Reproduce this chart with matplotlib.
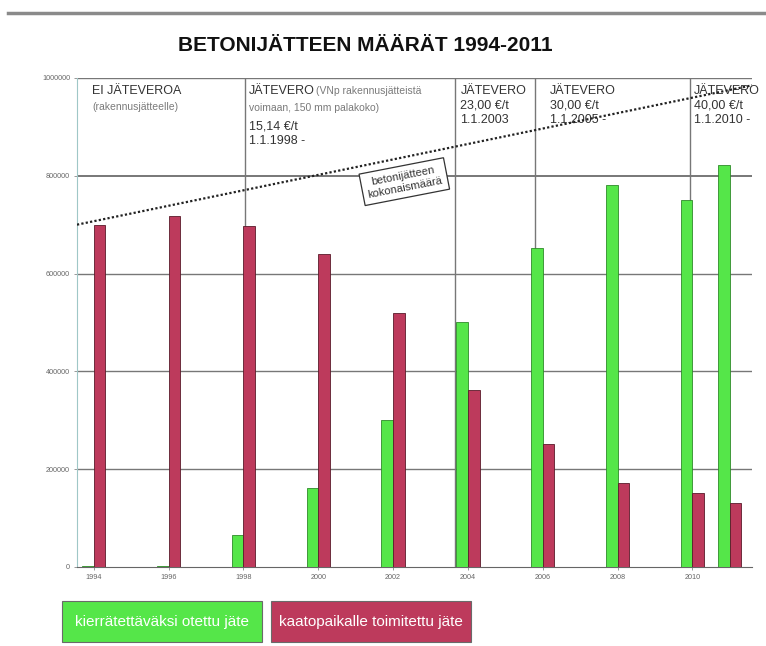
import numpy as np
import matplotlib
matplotlib.use("Agg")
import matplotlib.pyplot as plt
from matplotlib.lines import Line2D
from matplotlib.patches import Rectangle

# data
years = [1994, 1996, 1998, 2000, 2002, 2004, 2006, 2008, 2010, 2011]
recycled = [2000, 3000, 65000, 162000, 300000, 500000, 652000, 781000, 750000, 822000]
landfill = [700000, 718000, 697000, 640000, 519000, 362000, 252000, 172000, 151000, 131000]
total_x = [1993.55, 2011.6]
total_y = [700000, 985000]
tax_lines = [1998.05, 2003.65, 2005.8, 2009.95]
ytick_vals = [0, 200000, 400000, 600000, 800000, 1000000]
xtick_vals = [1994, 1996, 1998, 2000, 2002, 2004, 2006, 2008, 2010]

title = "BETONIJÄTTEEN MÄÄRÄT 1994-2011"
legend_labels = ["kierrätettäväksi otettu jäte", "kaatopaikalle toimitettu jäte"]

GREEN = "#55e649"
RED = "#bd3a5c"
plt.rcParams['font.family'] = ['Liberation Sans', 'DejaVu Sans']

fig = plt.figure(figsize=(7.66, 6.46), dpi=100)
ax = fig.add_axes([0.1005, 0.1223, 0.8815, 0.7570])

w = 0.31
x = np.array(years, dtype=float)
ax.bar(x - w / 2, recycled, width=w, color=GREEN, edgecolor="#2f8a2a", linewidth=0.6, zorder=3)
ax.bar(x + w / 2, landfill, width=w, color=RED, edgecolor="#5a1a2a", linewidth=0.6, zorder=3)

# grid + tax period separators
for v in ytick_vals[1:]:
    ax.axhline(v, color="#777777", lw=1.0 if v != 800000 else 1.4, zorder=1)
for t in tax_lines:
    ax.axvline(t, color="#777777", lw=1.0, zorder=1)

# total amount (dotted line)
ax.plot(total_x, total_y, color="#222222", lw=1.6, ls=(0, (1, 1)), zorder=4)
ax.text(2002.3, 788000, "betonijätteen\nkokonaismäärä", rotation=11, ha="center", va="center",
        fontsize=8, color="#333333", linespacing=1.25, zorder=5,
        bbox=dict(boxstyle="square,pad=0.45", fc="white", ec="#333333", lw=0.9))

# period texts
dark = "#333333"
light = "#7a7a7a"
ax.text(1993.95, 986000, "EI JÄTEVEROA", fontsize=9, color=dark, va="top")
ax.text(1993.95, 950000, "(rakennusjätteelle)", fontsize=7.5, color=light, va="top")
ax.text(1998.15, 986000, "JÄTEVERO", fontsize=9, color=dark, va="top")
ax.text(1999.95, 984000, "(VNp rakennusjätteistä", fontsize=7.5, color=light, va="top")
ax.text(1998.15, 948000, "voimaan, 150 mm palakoko)", fontsize=7.5, color=light, va="top")
ax.text(1998.15, 914000, "15,14 €/t\n1.1.1998 -", fontsize=9, color=dark, va="top", linespacing=1.3)
ax.text(2003.8, 986000, "JÄTEVERO\n23,00 €/t\n1.1.2003", fontsize=9, color=dark, va="top",
        linespacing=1.3)
ax.text(2006.2, 986000, "JÄTEVERO\n30,00 €/t\n1.1.2005 -", fontsize=9, color=dark, va="top",
        linespacing=1.3)
ax.text(2010.05, 986000, "JÄTEVERO\n40,00 €/t\n1.1.2010 -", fontsize=9, color=dark, va="top",
        linespacing=1.3)

ax.set_xlim(1993.55, 2011.6)
ax.set_ylim(0, 1000000)
ax.set_xticks(xtick_vals)
ax.set_xticklabels([str(v) for v in xtick_vals], fontsize=5.2, color="#666666")
ax.set_yticks(ytick_vals)
ax.set_yticklabels([str(v) for v in ytick_vals], fontsize=5.2, color="#666666")
ax.tick_params(axis="both", length=2, width=0.6, color="#888888", pad=3)
for s in ["top", "right"]:
    ax.spines[s].set_visible(False)
ax.spines["left"].set_color("#9fc7c7")
ax.spines["bottom"].set_color("#666666")

fig.text(0.477, 0.930, title, ha="center", va="center", fontsize=15, fontweight="bold",
         color="#111111")

# grey rule at the top of the picture
fig.add_artist(Line2D([0.01, 1.0], [0.98, 0.98], color="#8a8a8a", lw=2.5))

# legend boxes
for x0, col, lab in [(0.081, GREEN, legend_labels[0]), (0.354, RED, legend_labels[1])]:
    fig.add_artist(Rectangle((x0, 0.006), 0.261, 0.0635, transform=fig.transFigure,
                             fc=col, ec="#6a6a6a", lw=0.8))
    fig.text(x0 + 0.1305, 0.006 + 0.0318, lab, ha="center", va="center", fontsize=11,
             color="white")

fig.savefig("out.png", dpi=100)
